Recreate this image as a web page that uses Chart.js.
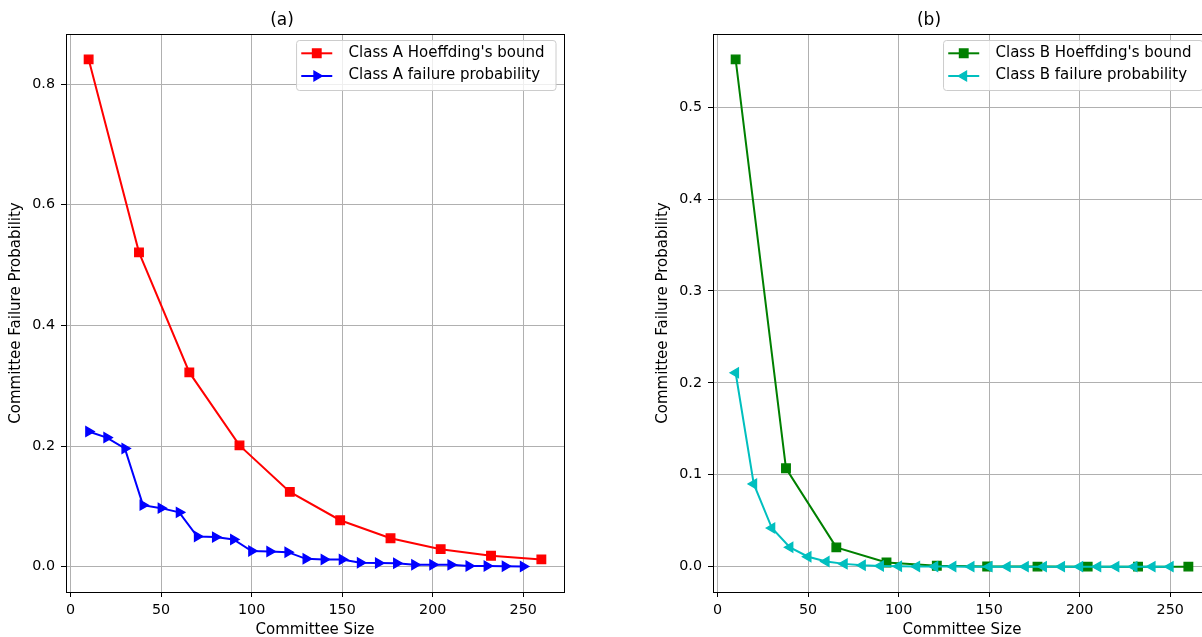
<!DOCTYPE html>
<html>
<head>
<meta charset="utf-8">
<title>Committee failure probability</title>
<script src="https://cdn.jsdelivr.net/npm/chart.js@4.4.1/dist/chart.umd.min.js"></script>
<style>
  html, body { margin: 0; padding: 0; background: #fff; overflow: hidden; width: 1202px; height: 637px; }
  .panel { position: absolute; top: 0; }
  #panelA { left: 0; }
  #panelB { left: 647px; }
</style>
</head>
<body>
<div class="panel" id="panelA"><canvas id="chartA" width="600" height="650"></canvas></div>
<div class="panel" id="panelB"><canvas id="chartB" width="600" height="650"></canvas></div>

<script>
// committee sizes
const boundSizes = [10, 37.8, 65.6, 93.3, 121.1, 148.9, 176.7, 204.4, 232.2, 260];
const failSizes = [10, 20, 30, 40, 50, 60, 70, 80, 90, 100, 110, 120, 130,
  140, 150, 160, 170, 180, 190, 200, 210, 220, 230, 240, 250];

// (a) class A
const classABound = [0.841, 0.521, 0.322, 0.201, 0.124, 0.077, 0.047, 0.029, 0.018, 0.012];
const classAFail = [0.224, 0.214, 0.196, 0.102, 0.097, 0.090, 0.050, 0.049, 0.045,
  0.026, 0.025, 0.024, 0.013, 0.012, 0.012, 0.0066, 0.006, 0.0055,
  0.0033, 0.0032, 0.003, 0.0012, 0.0011, 0.0008, 0.0004];

// (b) class B
const classBBound = [0.552, 0.107, 0.021, 0.0045, 0.001, 0.0002, 0.00004, 0.00001, 0, 0];
const classBFail = [0.211, 0.090, 0.042, 0.021, 0.0108, 0.0055, 0.003, 0.0015, 0.0008,
  0.0004, 0.0002, 0.0001, 0.0001, 0, 0, 0, 0, 0, 0, 0, 0, 0, 0, 0, 0];

// ticks and axis limits
const xTicks = [0, 50, 100, 150, 200, 250];
const yTicksA = [0, 0.2, 0.4, 0.6, 0.8];
const yTicksB = [0, 0.1, 0.2, 0.3, 0.4, 0.5];
const xLimits = [-2.5, 272.5];
const yLimitsA = [-0.042, 0.883];
const yLimitsB = [-0.0276, 0.5796];

Chart.defaults.font.family = "'DejaVu Sans', sans-serif";
Chart.defaults.color = '#000';

const toPoints = (xs, ys) => xs.map((x, i) => ({ x: x, y: ys[i] }));

// black box round the plot area, like matplotlib spines
const framePlugin = {
  id: 'frame',
  afterDatasetsDraw(chart) {
    const { ctx, chartArea } = chart;
    ctx.save();
    ctx.strokeStyle = '#000';
    ctx.lineWidth = 1;
    ctx.strokeRect(chartArea.left + 0.5, chartArea.top + 0.5,
      chartArea.right - chartArea.left, chartArea.bottom - chartArea.top);
    ctx.restore();
  }
};

// legend box in the upper right corner (line + marker handle)
const legendPlugin = {
  id: 'mplLegend',
  afterDraw(chart) {
    const { ctx, chartArea } = chart;
    const sets = chart.data.datasets;
    ctx.save();
    ctx.font = "15px 'DejaVu Sans'";
    const textW = Math.max(...sets.map(d => ctx.measureText(d.label).width));
    const w = 52 + textW + 11.5;
    const h = 50;
    const x0 = chartArea.right - 8 - w;
    const y0 = chartArea.top + 6.5;

    ctx.beginPath();
    ctx.roundRect(x0, y0, w, h, 3);
    ctx.fillStyle = 'rgba(255,255,255,0.8)';
    ctx.fill();
    ctx.strokeStyle = '#cccccc';
    ctx.lineWidth = 1;
    ctx.stroke();

    sets.forEach((d, i) => {
      const cy = y0 + 12.8 + i * 22.7;
      ctx.strokeStyle = d.borderColor;
      ctx.fillStyle = d.borderColor;
      ctx.lineWidth = 2;
      ctx.beginPath();
      ctx.moveTo(x0 + 4.7, cy);
      ctx.lineTo(x0 + 35.7, cy);
      ctx.stroke();
      ctx.lineWidth = d.pointBorderWidth;
      Chart.helpers.drawPoint(ctx, {
        pointStyle: d.pointStyle,
        rotation: d.pointRotation || 0,
        radius: d.pointRadius,
        borderWidth: d.pointBorderWidth
      }, x0 + 20.2, cy);

      ctx.fillStyle = '#000';
      ctx.textAlign = 'left';
      ctx.textBaseline = 'middle';
      ctx.fillText(d.label, x0 + 52, cy - 0.5);
    });
    ctx.restore();
  }
};

function makeSeries(label, color, xs, ys, style, rotation, order) {
  return {
    label: label,
    data: toPoints(xs, ys),
    borderColor: color,
    backgroundColor: color,
    borderWidth: 2,
    pointStyle: style,
    pointRotation: rotation,
    pointRadius: style === 'rect' ? 6 : 5.5,
    pointBorderWidth: 1.4,
    pointBackgroundColor: color,
    pointBorderColor: color,
    tension: 0,
    fill: false,
    order: order
  };
}

function makeChart(canvasId, title, datasets, yTicks, yLimits) {
  const ctx = document.getElementById(canvasId).getContext('2d');
  return new Chart(ctx, {
    type: 'line',
    data: { datasets: datasets },
    plugins: [framePlugin, legendPlugin],
    options: {
      responsive: false,
      animation: false,
      devicePixelRatio: 1,
      events: [],
      layout: { padding: { left: 0, right: 36, top: 0, bottom: 0 } },
      plugins: {
        legend: { display: false },
        tooltip: { enabled: false },
        title: {
          display: true,
          text: title,
          color: '#000',
          font: { size: 17, weight: 'normal' },
          padding: { top: 10.5, bottom: 3.1 }
        }
      },
      scales: {
        x: {
          type: 'linear',
          min: xLimits[0],
          max: xLimits[1],
          afterBuildTicks: axis => { axis.ticks = xTicks.map(v => ({ value: v })); },
          afterFit: axis => { axis.height = 58; },
          border: { display: false },
          grid: { color: '#b0b0b0', lineWidth: 1, tickLength: 5, tickColor: '#000', tickWidth: 1 },
          ticks: { font: { size: 14.3 }, color: '#000', padding: 5, maxRotation: 0, callback: v => String(v) },
          title: { display: true, text: 'Committee Size', color: '#000', font: { size: 15 }, padding: { top: 0, bottom: 11 } }
        },
        y: {
          type: 'linear',
          min: yLimits[0],
          max: yLimits[1],
          afterBuildTicks: axis => { axis.ticks = yTicks.map(v => ({ value: v })); },
          afterFit: axis => { axis.width = 66; },
          border: { display: false },
          grid: { color: '#b0b0b0', lineWidth: 1, tickLength: 5, tickColor: '#000', tickWidth: 1 },
          ticks: { font: { size: 14.3 }, color: '#000', padding: 6, callback: v => v.toFixed(1) },
          title: { display: true, text: 'Committee Failure Probability', color: '#000', font: { size: 15 }, padding: { top: 7, bottom: 0 } }
        }
      }
    }
  });
}

makeChart('chartA', '(a)', [
  makeSeries("Class A Hoeffding's bound", '#ff0000', boundSizes, classABound, 'rect', 0, 1),
  makeSeries('Class A failure probability', '#0000ff', failSizes, classAFail, 'triangle', 90, 0)
], yTicksA, yLimitsA);

makeChart('chartB', '(b)', [
  makeSeries("Class B Hoeffding's bound", '#008000', boundSizes, classBBound, 'rect', 0, 1),
  makeSeries('Class B failure probability', '#00bfbf', failSizes, classBFail, 'triangle', -90, 0)
], yTicksB, yLimitsB);
</script>
</body>
</html>
